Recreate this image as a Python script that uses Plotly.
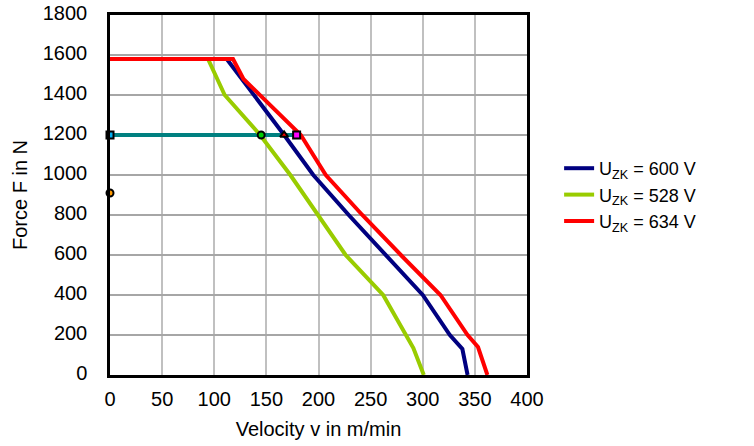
import plotly.graph_objects as go

# Data
v_600 = [0, 112, 167, 195, 229, 265, 300, 326, 338, 343]
f_600 = [1580, 1580, 1200, 1000, 800, 600, 400, 200, 130, 0]

v_528 = [0, 94, 110, 144, 173, 199, 226, 262, 284, 291, 301]
f_528 = [1580, 1580, 1400, 1200, 1000, 800, 600, 400, 200, 135, 0]

v_634 = [0, 118, 128, 183, 207, 242, 279, 317, 343, 353, 362]
f_634 = [1580, 1580, 1480, 1200, 1000, 800, 600, 400, 200, 140, 0]

v_op = [0, 179]
f_op = [1200, 1200]

marker_v = [0, 145, 167, 179, 0]
marker_f = [1200, 1200, 1200, 1200, 910]
marker_sym = ["square", "circle", "triangle-up", "square", "circle"]
marker_col = ["#00b0f0", "#00cc00", "#ff0000", "#ff00ff", "#ff9900"]

labels = ["U<sub>ZK</sub> = 600 V", "U<sub>ZK</sub> = 528 V", "U<sub>ZK</sub> = 634 V"]
x_ticks = [0, 50, 100, 150, 200, 250, 300, 350, 400]
y_ticks = [0, 200, 400, 600, 800, 1000, 1200, 1400, 1600, 1800]

fig = go.Figure()
fig.add_trace(go.Scatter(x=v_op, y=f_op, mode="lines", line=dict(color="#008080", width=4),
                         showlegend=False, cliponaxis=False))
fig.add_trace(go.Scatter(x=v_600, y=f_600, mode="lines", name=labels[0],
                         line=dict(color="#000080", width=4), cliponaxis=False))
fig.add_trace(go.Scatter(x=v_528, y=f_528, mode="lines", name=labels[1],
                         line=dict(color="#99cc00", width=4), cliponaxis=False))
fig.add_trace(go.Scatter(x=v_634, y=f_634, mode="lines", name=labels[2],
                         line=dict(color="#ff0000", width=4), cliponaxis=False))
fig.add_trace(go.Scatter(x=marker_v, y=marker_f, mode="markers", showlegend=False, cliponaxis=False,
                         marker=dict(symbol=marker_sym, color=marker_col, size=7,
                                     line=dict(color="black", width=2))))

font = "Liberation Sans, Arial, sans-serif"
fig.update_layout(
    width=754, height=446,
    margin=dict(l=110, r=227, t=15, b=71, autoexpand=False),
    paper_bgcolor="white", plot_bgcolor="white",
    font=dict(family=font, size=20, color="black"),
    legend=dict(x=1.077, xanchor="left", y=0.5, yanchor="middle",
                font=dict(size=18), tracegroupgap=0, itemwidth=30,
                bgcolor="rgba(0,0,0,0)"),
)
fig.update_xaxes(range=[0, 400], tickvals=x_ticks, showgrid=True, gridcolor="#c0c0c0", gridwidth=1.5,
                 showline=True, linecolor="black", linewidth=2.5, mirror=True,
                 ticks="outside", ticklen=4, tickcolor="rgba(0,0,0,0)", automargin=False,
                 zeroline=False, tickfont=dict(size=20), ticklabeloverflow="allow",
                 title=dict(text="Velocity v in m/min", standoff=14, font=dict(size=20)))
fig.update_yaxes(range=[0, 1800], tickvals=y_ticks, showgrid=True, gridcolor="#a6a6a6", gridwidth=1.5,
                 showline=True, linecolor="black", linewidth=2.5, mirror=True,
                 ticks="outside", ticklen=16, tickcolor="rgba(0,0,0,0)", automargin=False,
                 zeroline=False, tickfont=dict(size=20), ticklabeloverflow="allow",
                 ticklabelshift=-2,
                 title=dict(text="Force F in N", standoff=10, font=dict(size=20)))

# remove the default 8px body margin so the figure sits at the page's top-left corner
fig.write_html("out.html", config={"displayModeBar": False},
               post_script="document.body.style.margin='0';")
